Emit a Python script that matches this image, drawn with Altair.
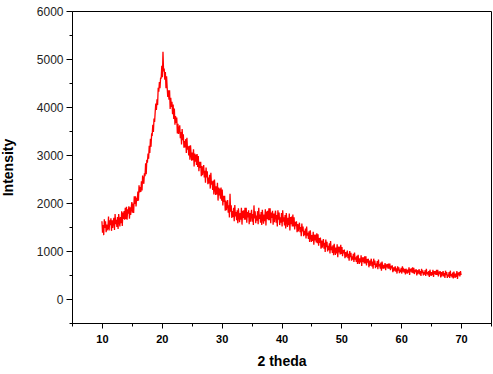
import altair as alt
import pandas as pd

# 2-theta sampling grid (degrees) and intensity readings, one row per degree (0.1 deg steps)
theta_start = 10.0
theta_step = 0.1
intensity_rows = [
    [1620, 1380, 1540, 1330, 1660, 1480, 1620, 1390, 1550, 1450],  # 10
    [1470, 1720, 1430, 1640, 1540, 1680, 1420, 1640, 1480, 1620],  # 11
    [1690, 1440, 1770, 1560, 1650, 1500, 1710, 1460, 1770, 1630],  # 12
    [1510, 1710, 1580, 1830, 1520, 1800, 1670, 1830, 1650, 1900],  # 13
    [1670, 1920, 1650, 1870, 1780, 1930, 1670, 1910, 1750, 1900],  # 14
    [2020, 1800, 1990, 1790, 2140, 1980, 2140, 1930, 2110, 2040],  # 15
    [2240, 2050, 2370, 2220, 2330, 2230, 2450, 2260, 2570, 2470],  # 16
    [2400, 2620, 2560, 2830, 2600, 2900, 2840, 3030, 2920, 3190],  # 17
    [3040, 3340, 3170, 3430, 3420, 3630, 3480, 3760, 3690, 3900],  # 18
    [4070, 3940, 4160, 4040, 4400, 4320, 4520, 4390, 4600, 4600],  # 19
    [4860, 4620, 5150, 4740, 4800, 4570, 4730, 4390, 4640, 4400],  # 20
    [4210, 4350, 4150, 4350, 3960, 4190, 4000, 4110, 3850, 4050],  # 21
    [3750, 3970, 3630, 3810, 3670, 3780, 3450, 3650, 3440, 3550],  # 22
    [3620, 3350, 3480, 3220, 3540, 3310, 3430, 3150, 3290, 3160],  # 23
    [3330, 3040, 3360, 3110, 3180, 2990, 3190, 2900, 3200, 3020],  # 24
    [2880, 3050, 2890, 3120, 2760, 3030, 2860, 3010, 2790, 3020],  # 25
    [2750, 2980, 2660, 2860, 2730, 2860, 2560, 2770, 2580, 2700],  # 26
    [2790, 2530, 2670, 2420, 2740, 2530, 2660, 2390, 2530, 2410],  # 27
    [2590, 2300, 2630, 2380, 2450, 2270, 2470, 2180, 2490, 2310],  # 28
    [2170, 2350, 2180, 2420, 2050, 2320, 2160, 2300, 2090, 2320],  # 29
    [2050, 2280, 1950, 2150, 2020, 2150, 1840, 2050, 1850, 1980],  # 30
    [2060, 1800, 1950, 1700, 2190, 1820, 1950, 1690, 1830, 1710],  # 31
    [1900, 1620, 1960, 1720, 1810, 1640, 1850, 1580, 1890, 1730],  # 32
    [1600, 1790, 1650, 1900, 1550, 1840, 1690, 1850, 1650, 1900],  # 33
    [1650, 1900, 1590, 1810, 1700, 1850, 1560, 1790, 1610, 1760],  # 34
    [1860, 1610, 1770, 1540, 1950, 1680, 1830, 1580, 1740, 1630],  # 35
    [1830, 1560, 1900, 1670, 1760, 1590, 1810, 1540, 1860, 1700],  # 36
    [1570, 1760, 1620, 1870, 1530, 1820, 1670, 1840, 1640, 1890],  # 37
    [1640, 1890, 1580, 1800, 1690, 1840, 1550, 1780, 1600, 1750],  # 38
    [1840, 1590, 1750, 1510, 1850, 1650, 1800, 1540, 1700, 1590],  # 39
    [1790, 1510, 1850, 1610, 1700, 1530, 1750, 1470, 1790, 1630],  # 40
    [1500, 1690, 1540, 1780, 1430, 1710, 1560, 1720, 1510, 1760],  # 41
    [1510, 1700, 1450, 1610, 1520, 1620, 1390, 1560, 1410, 1520],  # 42
    [1590, 1390, 1500, 1310, 1570, 1410, 1510, 1310, 1420, 1330],  # 43
    [1470, 1260, 1510, 1320, 1380, 1250, 1410, 1190, 1430, 1300],  # 44
    [1190, 1330, 1210, 1400, 1130, 1340, 1220, 1340, 1180, 1370],  # 45
    [1160, 1350, 1110, 1270, 1170, 1280, 1050, 1220, 1070, 1180],  # 46
    [1250, 1050, 1170, 980, 1240, 1080, 1190, 990, 1110, 1020],    # 47
    [1160, 950, 1210, 1020, 1090, 960, 1120, 910, 1150, 1020],     # 48
    [920, 1070, 950, 1140, 870, 1090, 970, 1090, 930, 1130],       # 49
    [940, 1080, 890, 1020, 950, 1030, 850, 980, 870, 950],         # 50
    [1010, 850, 940, 800, 1000, 870, 960, 800, 890, 820],          # 51
    [940, 770, 970, 820, 870, 770, 900, 730, 920, 810],            # 52
    [730, 850, 760, 910, 690, 870, 770, 870, 740, 890],            # 53
    [740, 890, 700, 830, 760, 840, 660, 800, 690, 780],            # 54
    [840, 680, 780, 630, 840, 710, 800, 640, 740, 670],            # 55
    [790, 620, 820, 680, 730, 630, 760, 590, 780, 680],            # 56
    [630, 710, 640, 750, 600, 720, 660, 730, 630, 740],            # 57
    [630, 740, 600, 690, 640, 700, 560, 660, 580, 640],            # 58
    [680, 570, 640, 530, 680, 590, 660, 540, 610, 560],            # 59
    [650, 530, 680, 570, 610, 550, 630, 510, 630, 580],            # 60
    [530, 610, 550, 660, 500, 630, 570, 640, 550, 660],            # 61
    [540, 650, 520, 610, 560, 620, 490, 600, 520, 580],            # 62
    [620, 510, 580, 480, 630, 540, 600, 490, 560, 510],            # 63
    [600, 480, 630, 520, 560, 490, 580, 460, 610, 530],            # 64
    [480, 560, 500, 610, 460, 580, 520, 580, 500, 610],            # 65
    [500, 610, 470, 570, 520, 580, 450, 560, 470, 540],            # 66
    [580, 470, 540, 440, 590, 500, 560, 440, 510, 470],            # 67
    [560, 440, 590, 480, 520, 450, 550, 430, 570, 500],            # 68
    [440, 530, 460, 580, 420, 550, 490, 560, 470, 580],            # 69
    [500],                                                          # 70
]

x_tick_values = [5, 10, 15, 20, 25, 30, 35, 40, 45, 50, 55, 60, 65, 70, 75]
y_tick_values = [-500, 0, 500, 1000, 1500, 2000, 2500, 3000, 3500,
                 4000, 4500, 5000, 5500, 6000]
x_domain = [5, 75]
y_domain = [-500, 6000]

intensity = [v for row in intensity_rows for v in row]
two_theta = [round(theta_start + i * theta_step, 2) for i in range(len(intensity))]
df = pd.DataFrame({"theta": two_theta, "intensity": intensity})

FONT = "Liberation Sans"

x_axis = alt.Axis(
    title="2 theda",
    values=x_tick_values,
    labelExpr="datum.value % 10 === 0 ? datum.label : ''",
    tickSize={"condition": {"test": "datum.value % 10 === 0", "value": 5}, "value": 3},
    grid=False,
    domainColor="black",
    tickColor="black",
    labelColor="black",
    labelFont=FONT,
    labelFontSize=11,
    labelFontWeight="bold",
    labelPadding=5,
    titleFont=FONT,
    titleFontSize=14,
    titleFontWeight="bold",
    titleColor="black",
    titlePadding=10,
)

y_axis = alt.Axis(
    title="Intensity",
    values=y_tick_values,
    labelExpr="datum.value % 1000 === 0 ? datum.label : ''",
    format="d",
    tickSize={"condition": {"test": "datum.value % 1000 === 0", "value": 6}, "value": 3},
    grid=False,
    domainColor="black",
    tickColor="black",
    labelColor="#222222",
    labelFont=FONT,
    labelFontSize=12,
    labelPadding=3,
    titleFont=FONT,
    titleFontSize=14,
    titleFontWeight="bold",
    titleColor="black",
    titlePadding=21,
)

chart = (
    alt.Chart(df)
    .mark_line(color="#ff0000", strokeWidth=1.3)
    .encode(
        x=alt.X("theta:Q", scale=alt.Scale(domain=x_domain, nice=False, zero=False), axis=x_axis),
        y=alt.Y("intensity:Q", scale=alt.Scale(domain=y_domain, nice=False, zero=False), axis=y_axis),
    )
    .properties(
        width=419,
        height=312,
        autosize=alt.AutoSizeParams(type="none"),
        padding={"left": 72, "top": 11, "right": 2, "bottom": 51},
        background="white",
    )
    .configure_view(stroke="black", strokeWidth=1)
)

chart.save("out.html", embed_options={"renderer": "svg", "actions": False})
